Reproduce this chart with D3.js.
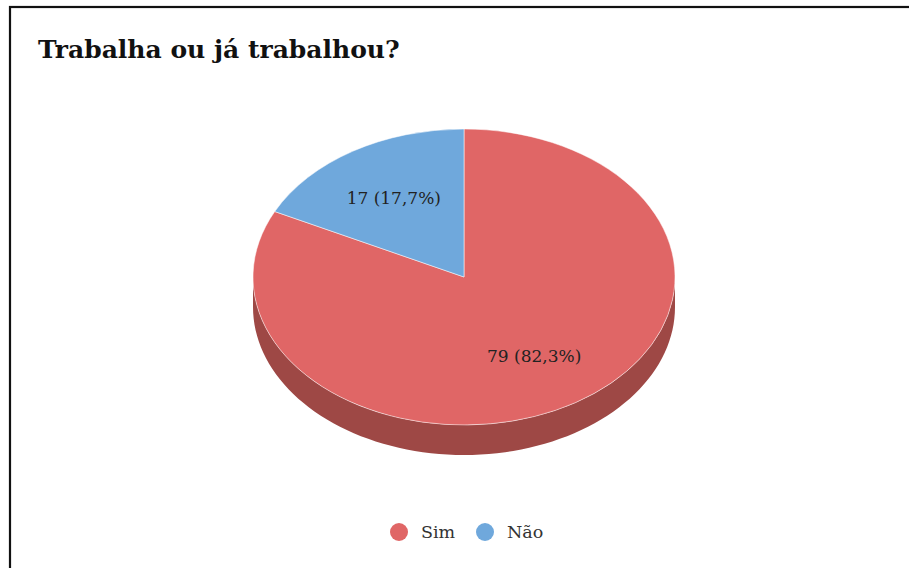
<!DOCTYPE html>
<html>
<head>
<meta charset="utf-8">
<script src="https://cdn.jsdelivr.net/npm/d3@7"></script>
<style>
  body { margin: 0; background: #fff; }
  svg { display: block; }
</style>
</head>
<body>
<div id="chart"></div>
<script>
const categories = ["Sim", "Não"]
const counts = [79, 17]
const labels = ["79 (82,3%)", "17 (17,7%)"]
const colors = ["#e06666", "#6fa8dc"]
const sideColors = ["#9e4845", "#4e76a0"]

const width = 909,
      height = 568,
      cx = 464,
      cy = 277,
      rx = 211,
      ry = 148,
      depth = 30

const svg = d3.select("#chart")
              .append("svg")
              .attr("width", width)
              .attr("height", height)

// frame
svg.append("rect")
   .attr("x", 10).attr("y", 7)
   .attr("width", 1000).attr("height", 1000)
   .attr("fill", "none")
   .attr("stroke", "#111")
   .attr("stroke-width", 2.2)

svg.append("text")
   .attr("x", 38).attr("y", 58)
   .attr("font-family", "Georgia, 'DejaVu Serif', serif")
   .attr("font-weight", "bold")
   .attr("font-size", 25)
   .attr("fill", "#111")
   .text("Trabalha ou já trabalhou?")

const color = d3.scaleOrdinal().domain(categories).range(colors)
const side = d3.scaleOrdinal().domain(categories).range(sideColors)

const pie = d3.pie().sort(null).value(d => d.v)
const slices = pie(categories.map((c, i) => ({ c: c, v: counts[i], label: labels[i] })))

// angle measured clockwise from 12 o'clock
const pt = (a, f, dy) => [cx + rx * f * Math.sin(a), cy - ry * f * Math.cos(a) + (dy || 0)]

// side walls (only the front half is visible)
slices.forEach(s => {
   const a0 = Math.max(s.startAngle, Math.PI / 2),
         a1 = Math.min(s.endAngle, 3 * Math.PI / 2)
   if (a1 <= a0) return
   const p = d3.path()
   const n = 80
   for (let i = 0; i <= n; i++) {
      const q = pt(a0 + (a1 - a0) * i / n, 1)
      i === 0 ? p.moveTo(q[0], q[1]) : p.lineTo(q[0], q[1])
   }
   for (let i = n; i >= 0; i--) {
      const q = pt(a0 + (a1 - a0) * i / n, 1, depth)
      p.lineTo(q[0], q[1])
   }
   p.closePath()
   svg.append("path")
      .attr("d", p.toString())
      .attr("fill", side(s.data.c))
})

// top face: circle arcs squashed to an ellipse
const arc = d3.arc().innerRadius(0).outerRadius(rx)
svg.append("g")
   .attr("transform", `translate(${cx},${cy}) scale(1,${ry / rx})`)
   .selectAll("path")
   .data(slices)
   .enter()
   .append("path")
   .attr("d", arc)
   .attr("fill", d => color(d.data.c))
   .attr("stroke", "#fff")
   .attr("stroke-width", 0.6)

svg.selectAll("text.lbl")
   .data(slices)
   .enter()
   .append("text")
   .attr("class", "lbl")
   .attr("x", d => pt((d.startAngle + d.endAngle) / 2, 0.63)[0])
   .attr("y", d => pt((d.startAngle + d.endAngle) / 2, 0.63)[1] + 6)
   .attr("text-anchor", "middle")
   .attr("font-family", "Georgia, 'DejaVu Serif', serif")
   .attr("font-size", 17)
   .attr("fill", "#222")
   .text(d => d.data.label)

// legend
const legendX = [399, 485]
const leg = svg.selectAll("g.leg")
   .data(categories)
   .enter()
   .append("g")
   .attr("class", "leg")
   .attr("transform", (d, i) => `translate(${legendX[i]},532)`)

leg.append("circle")
   .attr("r", 9)
   .attr("fill", d => color(d))

leg.append("text")
   .attr("x", 22).attr("y", 6)
   .attr("font-family", "Georgia, 'DejaVu Serif', serif")
   .attr("font-size", 17.5)
   .attr("fill", "#333")
   .text(d => d)
</script>
</body>
</html>
